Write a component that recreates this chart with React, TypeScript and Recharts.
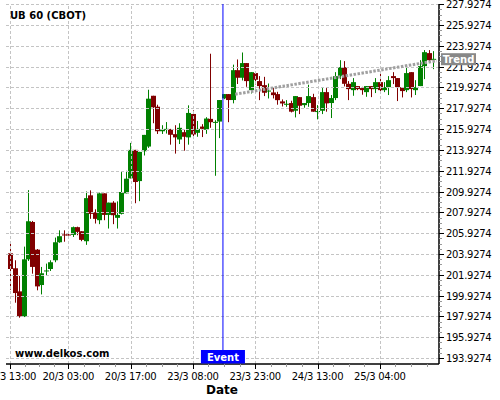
import React from 'react';
import {
  ComposedChart,
  Bar,
  XAxis,
  YAxis,
  ReferenceLine,
  ReferenceDot,
} from 'recharts';

// hourly candles, 19/3 13:00 .. 25/3
const opens = [
  203.99, 202.55, 200.33, 197.92, 203.41, 207.0, 204.34, 200.94, 202.3, 202.48,
  203.32, 205.05, 205.8, 205.8, 205.76, 206.5, 206.11, 205.15, 209.56, 207.94,
  207.17, 209.75, 207.68, 208.86, 207.4, 207.78, 209.75, 211.19, 213.93, 210.93,
  213.8, 214.25, 219.13, 218.08, 215.72, 215.9, 215.92, 215.44, 214.93, 215.63,
  215.13, 217.38, 215.57, 216.17, 215.86, 216.91, 216.55, 216.65, 218.88, 219.29,
  218.72, 221.59, 220.86, 222.27, 219.67, 221.31, 220.54, 220.15, 219.58, 219.45,
  219.29, 218.59, 218.3, 218.43, 217.69, 219.0, 218.23, 218.43, 219.0, 217.6,
  217.69, 219.48, 218.43, 218.91, 221.02, 221.88, 220.28, 219.67, 220.06, 219.87,
  219.48, 220.06, 219.77, 220.44, 219.67, 219.96, 221.02, 220.83, 219.96, 219.67,
  221.4, 219.67, 220.06, 221.98, 223.23, 222.62,
];
const highs = [
  204.92, 203.32, 201.81, 204.63, 210.06, 207.1, 204.4, 202.68, 203.0, 203.32,
  205.5, 206.2, 206.2, 205.9, 206.56, 206.55, 206.11, 209.93, 210.04, 208.22,
  209.82, 209.75, 208.86, 209.0, 208.98, 211.8, 211.92, 214.6, 213.93, 213.74,
  215.37, 219.71, 219.13, 218.27, 216.3, 216.6, 215.95, 216.3, 216.49, 215.86,
  218.21, 217.73, 216.71, 216.4, 217.07, 223.17, 216.78, 218.72, 219.29, 219.29,
  222.12, 222.62, 223.29, 222.27, 221.4, 221.31, 221.02, 220.95, 220.31, 219.96,
  219.51, 218.78, 218.71, 218.65, 219.1, 219.0, 218.43, 220.19, 219.32, 218.23,
  219.87, 219.87, 219.2, 221.4, 222.55, 222.46, 220.54, 220.83, 220.06, 219.99,
  220.06, 220.06, 220.83, 221.5, 220.44, 221.02, 221.4, 220.83, 219.96, 221.88,
  221.4, 220.63, 222.55, 223.52, 223.52, 223.42,
];
const lows = [
  200.49, 199.24, 197.8, 197.86, 203.25, 202.03, 200.43, 200.04, 201.81, 202.29,
  203.13, 205.0, 205.1, 205.7, 205.56, 205.73, 205.15, 204.8, 207.3, 206.85,
  206.79, 207.17, 206.37, 206.79, 206.37, 207.72, 209.75, 211.19, 208.8, 209.0,
  213.39, 214.12, 216.49, 215.46, 215.46, 215.5, 214.43, 213.57, 214.49, 213.85,
  214.43, 214.97, 215.19, 215.16, 215.47, 216.05, 211.44, 215.06, 218.8, 216.59,
  218.4, 220.26, 220.6, 219.99, 219.35, 220.22, 218.71, 219.1, 218.87, 218.87,
  218.27, 218.1, 218.07, 217.53, 217.05, 217.37, 217.98, 218.07, 217.6, 216.86,
  217.37, 217.6, 216.99, 218.71, 220.73, 220.03, 218.71, 219.13, 219.67, 219.23,
  219.03, 219.0, 219.39, 219.48, 219.48, 219.2, 220.25, 218.62, 218.97, 219.48,
  218.97, 219.2, 220.06, 220.73, 222.27, 221.69,
];
const closes = [
  202.48, 200.17, 197.92, 203.41, 207.07, 202.68, 200.81, 202.07, 202.34, 203.13,
  205.05, 205.63, 205.75, 205.78, 206.5, 206.05, 205.28, 209.29, 207.78, 207.3,
  209.75, 207.68, 208.86, 207.65, 207.68, 209.88, 211.16, 213.93, 210.84, 213.74,
  215.37, 218.85, 218.02, 215.72, 215.88, 215.95, 215.38, 215.13, 216.05, 215.19,
  217.48, 215.41, 215.95, 215.95, 216.94, 216.59, 216.62, 218.72, 219.29, 218.72,
  221.59, 220.86, 222.27, 220.54, 221.4, 220.67, 220.06, 219.42, 219.63, 219.19,
  218.71, 218.39, 218.36, 217.6, 219.1, 218.17, 218.43, 219.1, 217.6, 217.66,
  219.48, 218.4, 218.91, 221.02, 221.88, 220.28, 219.77, 220.44, 219.77, 219.67,
  220.06, 219.77, 220.44, 219.67, 219.96, 220.63, 220.83, 219.96, 219.58, 221.31,
  219.77, 219.96, 221.98, 223.32, 222.55, 222.68,
];

const xTickIdx = [0, 13, 27, 41, 55, 69, 83];
const xTickLabels = ['19/3 13:00', '20/3 03:00', '20/3 17:00', '23/3 08:00', '23/3 23:00', '24/3 13:00', '25/3 04:00'];
const xMinorIdx = [3.25, 6.5, 9.75, 16.5, 20, 23.5, 30.5, 34, 37.5, 44.5, 48, 51.5, 58.5, 62, 65.5, 72.5, 76, 79.5, 86.5, 90, 93.5];

const yMajorTicks = [
  193.9274, 195.9274, 197.9274, 199.9274, 201.9274, 203.9274, 205.9274, 207.9274, 209.9274,
  211.9274, 213.9274, 215.9274, 217.9274, 219.9274, 221.9274, 223.9274, 225.9274, 227.9274,
];

const eventIdx = 47.75;
const trendPoints = [
  { i: 50.5, v: 219.28 },
  { i: 95.8, v: 222.5 },
];

const Y_DOMAIN = [193.35, 227.95];
const UP = '#008000';
const DOWN = '#800000';
const GRID = '#c4c4c4';
const FONT = '"DejaVu Sans", sans-serif';

const data = opens.map((o, i) => ({ i, o, h: highs[i], l: lows[i], c: closes[i] }));

const yMinorTicks = yMajorTicks.flatMap((t) => [t + 0.5, t + 1, t + 1.5]).filter((t) => t < 228);
const yAllTicks = [...yMajorTicks, ...yMinorTicks].sort((a, b) => a - b);
const xAllTicks = [...xTickIdx, ...xMinorIdx].sort((a, b) => a - b);

const snap = (v: number) => Math.round(v) + 0.5;

function Candle(props: any) {
  const { x, y, width, height, payload } = props;
  if (!payload || x == null) return null;
  const { o, h, l, c } = payload;
  const top = Math.min(y, y + height);
  const span = Math.abs(height);
  const k = span / (h - l || 1);
  const yo = top + (h - o) * k;
  const yc = top + (h - c) * k;
  const color = c >= o ? UP : DOWN;
  const mid = Math.round(x + width / 2);
  const bTop = Math.min(yo, yc);
  const bH = Math.max(1, Math.abs(yo - yc));
  return (
    <g>
      <line x1={mid + 0.5} x2={mid + 0.5} y1={top} y2={top + span} stroke={color} strokeWidth={1} />
      <rect x={mid - 2} y={bTop} width={5} height={bH} fill={color} />
    </g>
  );
}

// crisp 1px dashed grid line
function GridLine(props: any) {
  const { x1, y1, x2, y2 } = props;
  if (x1 == null) return null;
  const vertical = Math.abs(x1 - x2) < 0.01;
  return vertical ? (
    <line x1={snap(x1)} x2={snap(x1)} y1={y1} y2={y2} stroke={GRID} strokeDasharray="3 2" />
  ) : (
    <line x1={x1} x2={x2} y1={snap(y1)} y2={snap(y1)} stroke={GRID} strokeDasharray="3 2" />
  );
}

function YTick(props: any) {
  const { x, y, payload } = props;
  const major = yMajorTicks.some((t) => Math.abs(t - payload.value) < 1e-6);
  return (
    <g>
      <line x1={x} x2={x + (major ? 5 : 3)} y1={snap(y)} y2={snap(y)} stroke={major ? '#000' : '#999'} />
      {major && (
        <text x={x + 7} y={y + 4} fontSize={10} fontFamily={FONT} letterSpacing={-0.3} fill="#000">
          {payload.value.toFixed(4)}
        </text>
      )}
    </g>
  );
}

// drawn by a second (empty) right axis so that it sits over the price labels
function TrendTick(props: any) {
  const { x, y } = props;
  const left = x - 58;
  return (
    <g>
      <rect x={left} y={y - 7.5} width={35} height={12} fill="#888" />
      <text x={left + 17.5} y={y + 2} textAnchor="middle" fontSize={10} fontWeight="bold" fontFamily={FONT} fill="#fff">
        Trend
      </text>
    </g>
  );
}

function XTick(props: any) {
  const { x, y, payload } = props;
  const idx = xTickIdx.indexOf(payload.value);
  const major = idx >= 0;
  return (
    <g>
      <line x1={snap(x)} x2={snap(x)} y1={y} y2={y + (major ? 5 : 3)} stroke={major ? '#000' : '#999'} />
      {major && (
        <text x={x} y={y + 16} textAnchor="middle" fontSize={10} fontFamily={FONT} letterSpacing={-0.3} fill="#000">
          {xTickLabels[idx]}
        </text>
      )}
    </g>
  );
}

function EventTag(props: any) {
  const { cx, cy } = props;
  return (
    <g>
      <rect x={cx - 22} y={cy - 14} width={44} height={13.5} fill="#0000ff" />
      <text x={cx} y={cy - 3.5} textAnchor="middle" fontSize={10} fontWeight="bold" fontFamily={FONT} fill="#fff">
        Event
      </text>
    </g>
  );
}

export default function App() {
  return (
    <div style={{ position: 'absolute', left: 0, top: 0, width: 500, height: 400, background: '#fff' }}>
      <ComposedChart width={500} height={400} data={data} margin={{ top: 4, right: 0, bottom: 0, left: 6 }}>
        <XAxis
          dataKey="i"
          type="number"
          domain={[-1, 96.3]}
          allowDataOverflow
          ticks={xAllTicks}
          interval={0}
          height={36}
          tickSize={0}
          tickMargin={0}
          tickLine={false}
          axisLine={{ stroke: '#000', strokeWidth: 1.5 }}
          tick={<XTick />}
        />
        <YAxis
          orientation="right"
          type="number"
          domain={Y_DOMAIN}
          allowDataOverflow
          ticks={yAllTicks}
          interval={0}
          width={60}
          tickSize={0}
          tickMargin={0}
          tickLine={false}
          axisLine={{ stroke: '#000', strokeWidth: 1.5 }}
          tick={<YTick />}
        />
        <YAxis
          yAxisId="tag"
          orientation="right"
          type="number"
          domain={Y_DOMAIN}
          allowDataOverflow
          ticks={[trendPoints[1].v]}
          interval={0}
          width={1}
          tickSize={0}
          tickMargin={0}
          tickLine={false}
          axisLine={false}
          tick={<TrendTick />}
        />
        {yMajorTicks.map((t) => (
          <ReferenceLine key={`gy${t}`} y={t} shape={<GridLine />} />
        ))}
        {xTickIdx.map((t) => (
          <ReferenceLine key={`gx${t}`} x={t} shape={<GridLine />} />
        ))}
        <Bar
          dataKey={(d: any) => [d.l, d.h]}
          barSize={5}
          shape={<Candle />}
          isAnimationActive={false}
        />
        <ReferenceLine
          segment={[
            { x: trendPoints[0].i, y: trendPoints[0].v },
            { x: trendPoints[1].i, y: trendPoints[1].v },
          ]}
          stroke="#a0a0a0"
          strokeWidth={3}
          strokeDasharray="2.5 1.5"
        />
        <ReferenceLine x={eventIdx} stroke="#0000ff" strokeWidth={1} />
        <ReferenceDot x={eventIdx} y={Y_DOMAIN[0]} r={0} shape={<EventTag />} />
      </ComposedChart>
      <svg
        width={500}
        height={400}
        style={{ position: 'absolute', left: 0, top: 0, pointerEvents: 'none' }}
      >
        <text x={10} y={19} fontSize={10} fontWeight="bold" fontFamily={FONT} fill="#000">
          UB 60 (CBOT)
        </text>
        <text x={15} y={357} fontSize={10} fontWeight="bold" fontFamily={FONT} fill="#000">
          www.delkos.com
        </text>
        <text x={222} y={394} textAnchor="middle" fontSize={12} fontWeight="bold" fontFamily={FONT} fill="#000">
          Date
        </text>
      </svg>
    </div>
  );
}
